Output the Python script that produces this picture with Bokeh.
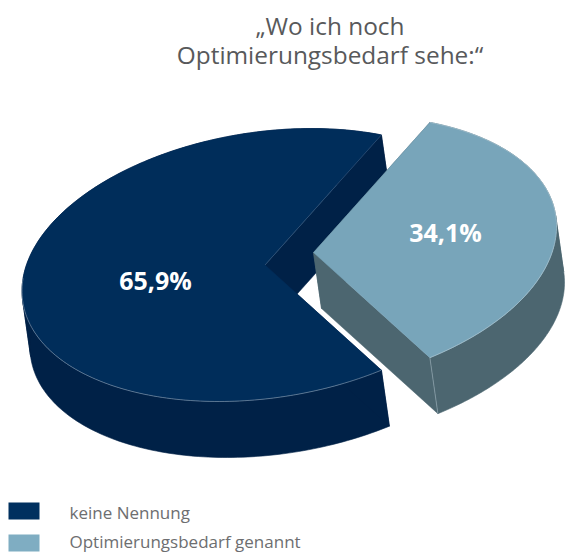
import numpy as np
from bokeh.plotting import figure
from bokeh.models import Range1d
from bokeh.core.properties import value
from bokeh.embed import file_html
from bokeh.resources import INLINE

categories = ["keine Nennung", "Optimierungsbedarf genannt"]
shares = [65.9, 34.1]
pct_labels = ["65,9%", "34,1%"]
title_lines = ["„Wo ich noch", "Optimierungsbedarf sehe:“"]

TOP = ["#002d5a", "#78a5ba"]
SIDE = ["#002147", "#4c6670"]
SWATCH = ["#00305f", "#7fadc2"]
FONT = "Open Sans"

CX, CY = 264.5, 264.5
A, B, C = 243.0, 134.0, -26.0
DX, DY = 8.0, 56.0
EXPLODE = (48.5, -12.5)

half = np.radians(shares[1] * 3.6 / 2)


def arc(t0, t1, ox=0.0, oy=0.0, n=200):
    t = np.linspace(t0, t1, n)
    return CX + ox + A * np.cos(t), CY + oy + B * np.sin(t) + C * np.cos(t)


p = figure(width=565, height=553, output_backend="svg", toolbar_location=None,
           x_range=Range1d(0, 565), y_range=Range1d(553, 0),
           min_border=0, outline_line_color=None, background_fill_color="white")
p.xaxis.visible = False
p.yaxis.visible = False
p.grid.visible = False


def wedge(t0, t1, top, side, ox=0.0, oy=0.0):
    ax, ay = CX + ox, CY + oy
    x, y = arc(t0, t1, ox, oy)
    # side wall: one band per stretch of arc between the points where the
    # sweep direction is tangent, so no band folds over itself
    turn = np.sign(np.diff(x) * DY - np.diff(y) * DX)
    cuts = [0] + list(np.nonzero(np.diff(turn))[0] + 1) + [len(x) - 1]
    for i, j in zip(cuts[:-1], cuts[1:]):
        sx, sy = x[i:j + 1], y[i:j + 1]
        p.patch(np.r_[sx, sx[::-1] + DX], np.r_[sy, sy[::-1] + DY],
                fill_color=side, line_color=side, line_width=0.6)
    for i in (0, -1):
        p.patch([ax, x[i], x[i] + DX, ax + DX], [ay, y[i], y[i] + DY, ay + DY],
                fill_color=side, line_color=side, line_width=0.5)
    p.patch(np.r_[ax, x], np.r_[ay, y], fill_color=top, line_color=top, line_width=0.5)
    return x, y


# dark slice: its far cut face is the one that shows
x, y = wedge(half, 2 * np.pi - half, TOP[0], SIDE[0])
p.line(x[:105], y[:105], line_color="#8ea3b5", line_width=0.6)
p.line([CX, x[-1]], [CY, y[-1]], line_color="#4a6a8a", line_width=0.5)

# light slice, pulled out of the pie
x, y = wedge(-half, half, TOP[1], SIDE[1], *EXPLODE)
p.line(x, y, line_color="#b6ccd6", line_width=0.6)
p.line([x[-1], x[-1] + DX], [y[-1], y[-1] + DY], line_color="#9fb4bd", line_width=0.6)

# labels
p.text([155, 445], [279, 231], text=pct_labels, text_color="white", text_font=value(FONT),
       text_font_style="bold", text_font_size="25px", text_align="center", text_baseline="middle")

# title
p.text([329.5, 329.5], [25, 54], text=title_lines, text_color="#58595b", text_font=value(FONT),
       text_font_size="24.4px", text_align="center", text_baseline="middle")

# legend
p.quad(left=[8, 8], right=[39, 39], top=[502, 534], bottom=[519, 551], fill_color=SWATCH, line_color=None)
p.text([69, 69], [512, 541.4], text=categories, text_color="#6d6e70", text_font=value(FONT),
       text_font_size="17px", text_align="left", text_baseline="middle")

open("out.html", "w").write(file_html(p, INLINE))
